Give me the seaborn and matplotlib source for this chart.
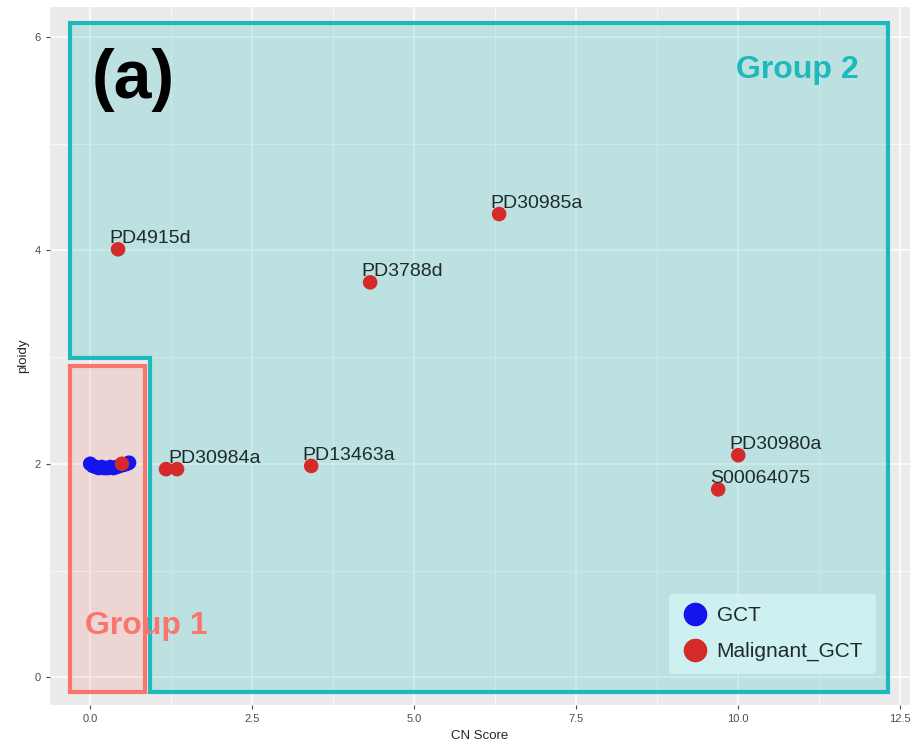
import pandas as pd
import matplotlib.pyplot as plt
import seaborn as sns
from matplotlib.patches import Polygon, Rectangle
from matplotlib.ticker import MultipleLocator

# GCT samples (blue cluster near CN score 0)
gct_x = [0.0, 0.04, 0.09, 0.13, 0.18, 0.22, 0.27, 0.31, 0.36, 0.41, 0.46, 0.52, 0.57, 0.6]
gct_y = [2.00, 1.98, 1.97, 1.96, 1.97, 1.96, 1.96, 1.97, 1.96, 1.97, 1.98, 1.99, 2.00, 2.01]

# Malignant GCT samples
mal_x = [0.49, 1.17, 1.34, 3.41, 4.32, 6.31, 0.43, 10.0, 9.69]
mal_y = [2.00, 1.95, 1.95, 1.98, 3.70, 4.34, 4.01, 2.08, 1.76]
mal_lab = ['', '', 'PD30984a', 'PD13463a', 'PD3788d', 'PD30985a', 'PD4915d', 'PD30980a', 'S00064075']

df = pd.DataFrame({
    'CN Score': gct_x + mal_x,
    'ploidy': gct_y + mal_y,
    'type': ['GCT'] * len(gct_x) + ['Malignant_GCT'] * len(mal_x),
})

teal = '#1DB9BD'
salmon = '#F8766D'

sns.set_style('darkgrid', {'axes.facecolor': '#EBEBEB', 'grid.color': 'white'})
plt.rcParams['font.family'] = ['Liberation Sans', 'DejaVu Sans']

fig = plt.figure(figsize=(9.13, 7.48), dpi=100)
ax = fig.add_axes([50 / 913, 43 / 748, 860 / 913, 698 / 748])

# group regions
g2_pts = [(-0.31, 6.13), (12.31, 6.13), (12.31, -0.14), (0.93, -0.14), (0.93, 2.99), (-0.31, 2.99)]
ax.add_patch(Polygon(g2_pts, closed=True, facecolor=teal, alpha=0.22, edgecolor='none', zorder=1))
ax.add_patch(Polygon(g2_pts, closed=True, facecolor='none', edgecolor=teal, linewidth=3, zorder=3))
ax.add_patch(Rectangle((-0.31, -0.14), 1.16, 3.06, facecolor=salmon, alpha=0.18, edgecolor='none', zorder=1))
ax.add_patch(Rectangle((-0.31, -0.14), 1.16, 3.06, facecolor='none', edgecolor=salmon, linewidth=3, zorder=3))

sns.scatterplot(data=df, x='CN Score', y='ploidy', hue='type', palette={'GCT': '#1414EE', 'Malignant_GCT': '#D42A2A'},
                s=110, edgecolor='none', ax=ax, zorder=4, legend=False)

for x, y, t in zip(mal_x, mal_y, mal_lab):
    if t:
        ax.text(x - 0.13, y + 0.02, t, fontsize=14, color='#1E2B2B', ha='left', va='bottom', zorder=5)

ax.text(0.02, 5.60, '(a)', fontsize=49, fontweight='bold', color='black', va='center', zorder=5)
ax.text(11.86, 5.69, 'Group 2', fontsize=23, fontweight='bold', color=teal, ha='right', va='center', zorder=5)
ax.text(-0.08, 0.48, 'Group 1', fontsize=23, fontweight='bold', color=salmon, ha='left', va='center', zorder=5)

ax.set_xlim(-0.62, 12.65)
ax.set_ylim(-0.26, 6.28)
ax.xaxis.set_major_locator(MultipleLocator(2.5))
ax.xaxis.set_minor_locator(MultipleLocator(1.25))
ax.yaxis.set_major_locator(MultipleLocator(2))
ax.yaxis.set_minor_locator(MultipleLocator(1))
ax.grid(which='major', color='white', linewidth=1.1)
ax.grid(which='minor', color='white', linewidth=0.5)
ax.set_xticklabels([f'{v:.1f}' for v in ax.get_xticks()])
ax.tick_params(axis='both', which='major', labelsize=8, colors='#4D4D4D', length=3, width=0.8, direction='out',
               bottom=True, left=True)
ax.tick_params(which='minor', length=0)
ax.set_xlabel('CN Score', fontsize=9.5)
ax.set_ylabel('ploidy', fontsize=9.5)
for sp in ax.spines.values():
    sp.set_visible(False)

# legend
h1 = plt.Line2D([], [], marker='o', linestyle='', markersize=16, color='#1414EE', label='GCT')
h2 = plt.Line2D([], [], marker='o', linestyle='', markersize=16, color='#D42A2A', label='Malignant_GCT')
leg = ax.legend(handles=[h1, h2], loc='lower right', bbox_to_anchor=(0.972, 0.03), fontsize=15,
                frameon=True, facecolor='#D0F2F2', edgecolor='none', framealpha=0.9, handletextpad=0.4,
                labelspacing=0.8, borderpad=0.6, handlelength=1.3)
for t in leg.get_texts():
    t.set_color('#1E2B2B')
leg.set_zorder(6)

fig.savefig('out.png', dpi=100)
